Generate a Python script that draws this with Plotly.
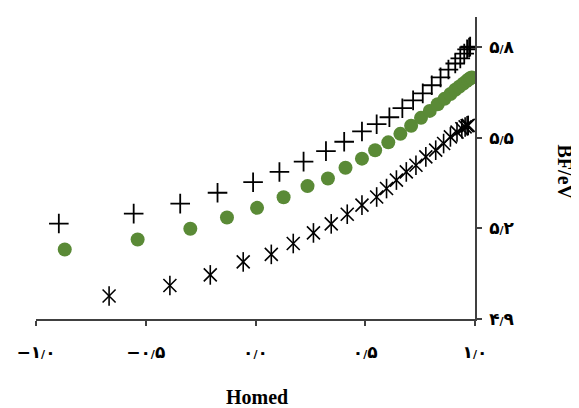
import plotly.graph_objects as go

# Series 1: plus markers
plus_x = [-0.896, -0.555, -0.343, -0.173, -0.011, 0.109, 0.219, 0.321, 0.404, 0.485,
          0.552, 0.610, 0.669, 0.718, 0.762, 0.803, 0.843, 0.879, 0.910, 0.933,
          0.951, 0.964, 0.973, 0.978]
plus_y = [5.216, 5.249, 5.282, 5.318, 5.353, 5.387, 5.421, 5.456, 5.487, 5.521,
          5.545, 5.568, 5.598, 5.624, 5.647, 5.674, 5.700, 5.726, 5.746, 5.763,
          5.779, 5.793, 5.799, 5.802]

# Series 2: green circles
circ_x = [-0.869, -0.537, -0.297, -0.130, 0.007, 0.128, 0.237, 0.330, 0.410, 0.485,
          0.545, 0.605, 0.660, 0.709, 0.754, 0.794, 0.830, 0.861, 0.888, 0.910,
          0.928, 0.946, 0.960, 0.969, 0.978, 0.985]
circ_y = [5.130, 5.163, 5.199, 5.236, 5.268, 5.303, 5.340, 5.365, 5.401, 5.431,
          5.459, 5.485, 5.513, 5.540, 5.566, 5.589, 5.611, 5.629, 5.645, 5.659,
          5.669, 5.679, 5.687, 5.692, 5.697, 5.700]

# Series 3: asterisk markers
ast_x = [-0.667, -0.390, -0.206, -0.056, 0.072, 0.172, 0.264, 0.345, 0.418, 0.485,
         0.552, 0.597, 0.642, 0.687, 0.731, 0.776, 0.821, 0.857, 0.888, 0.918,
         0.940, 0.955, 0.964, 0.969]
ast_y = [4.976, 5.011, 5.046, 5.089, 5.114, 5.150, 5.185, 5.215, 5.247, 5.277,
         5.304, 5.332, 5.360, 5.387, 5.409, 5.437, 5.459, 5.481, 5.503, 5.519,
         5.530, 5.536, 5.540, 5.541]

SEP = '<span style="font-size:11px">/</span>'
x_tickvals = [-1.0, -0.5, 0.0, 0.5, 1.0]
x_ticktext = ["−۱" + SEP + "۰", "−۰" + SEP + "۵", "۰" + SEP + "۰",
              "۰" + SEP + "۵", "۱" + SEP + "۰"]
y_tickvals = [4.9, 5.2, 5.5, 5.8]
y_ticktext = ["۴" + SEP + "۹", "۵" + SEP + "۲", "۵" + SEP + "۵", "۵" + SEP + "۸"]

x_title = "Homed"
y_title = "BF/eV"

GREEN = "#5a8a36"
AXIS = "#404040"

fig = go.Figure()
fig.add_trace(go.Scatter(
    x=plus_x, y=plus_y, mode="markers",
    marker=dict(symbol="cross-thin-open", size=14, color="black",
                line=dict(width=1.8, color="black")),
    showlegend=False))
fig.add_trace(go.Scatter(
    x=circ_x, y=circ_y, mode="markers",
    marker=dict(symbol="circle", size=14, color=GREEN, line=dict(width=0)),
    showlegend=False))
fig.add_trace(go.Scatter(
    x=ast_x, y=ast_y, mode="markers",
    marker=dict(symbol="x-thin-open", size=13, color="black",
                line=dict(width=1.6, color="black")),
    showlegend=False))
fig.add_trace(go.Scatter(
    x=ast_x, y=ast_y, mode="markers",
    marker=dict(symbol="line-ns-open", size=14, color="black",
                line=dict(width=1.6, color="black")),
    showlegend=False))

tick_font = dict(family="DejaVu Sans", size=17, color="black", weight="bold")

# the page body adds an 8px margin, so the figure is 8px smaller
fig.update_layout(
    width=571, height=400,
    margin=dict(l=20, r=104, t=8.5, b=89),
    paper_bgcolor="white", plot_bgcolor="white",
    xaxis=dict(range=[-1.0, 1.0], tickvals=x_tickvals, ticktext=x_ticktext,
               showgrid=False, zeroline=False, showline=True, linecolor=AXIS,
               linewidth=1.5, ticks="outside", ticklen=5, tickwidth=1.5,
               tickcolor=AXIS, tickfont=tick_font, ticklabelstandoff=12),
    yaxis=dict(range=[4.9, 5.9], tickvals=y_tickvals, ticktext=y_ticktext,
               side="right", showgrid=False, zeroline=False, showline=True,
               linecolor=AXIS, linewidth=1.5, ticks="outside", ticklen=5,
               tickwidth=1.5, tickcolor=AXIS, tickfont=tick_font,
               ticklabelstandoff=4),
    annotations=[
        dict(text="<b>" + x_title + "</b>", xref="paper", yref="paper",
             x=0.503, y=-0.258, xanchor="center", yanchor="middle",
             showarrow=False,
             font=dict(family="Liberation Serif", size=20, color="black")),
        dict(text="<b>" + y_title + "</b>", xref="paper", yref="paper",
             x=1.205, y=0.485, xanchor="center", yanchor="middle",
             textangle=90, showarrow=False,
             font=dict(family="Liberation Serif", size=20, color="black")),
    ],
)

fig.write_html("out.html")
